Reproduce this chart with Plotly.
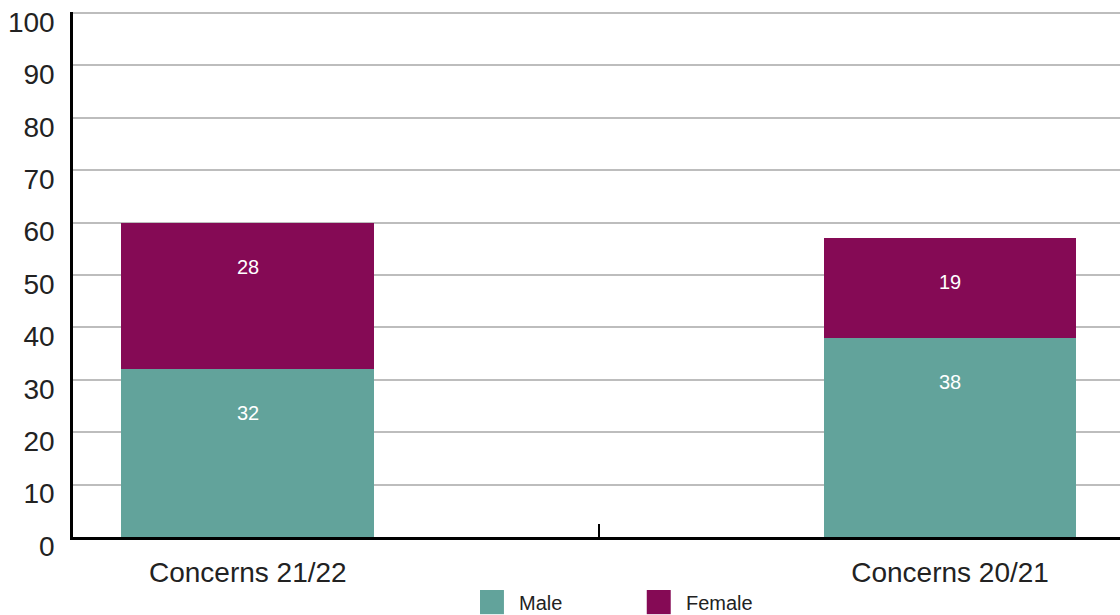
import plotly.graph_objects as go

categories = ["Concerns 21/22", "Concerns 20/21"]
male = [32, 38]
female = [28, 19]
series_names = ["Male", "Female"]
y_ticks = [0, 10, 20, 30, 40, 50, 60, 70, 80, 90, 100]

TEAL = "#62A39B"
PLUM = "#850A55"
FONT = "Liberation Sans, Arial, sans-serif"

fig = go.Figure()
stacks = [(series_names[0], male, TEAL), (series_names[1], female, PLUM)]
base = [0] * len(categories)
for name, vals, col in stacks:
    fig.add_trace(go.Bar(
        x=categories, y=vals, name=name, marker=dict(color=col, line=dict(width=0)),
        width=0.36, showlegend=False, hoverinfo="x+y+name",
    ))
    # value labels sit a fixed distance below the top of each segment
    for i, v in enumerate(vals):
        top = base[i] + v
        fig.add_annotation(x=categories[i], y=top, text=str(v), showarrow=False,
                           yanchor="middle", yshift=-44,
                           font=dict(size=20, color="white", family=FONT))
        base[i] = top

# legend drawn as large square swatches under the plot
legend_items = [(series_names[0], TEAL, 0.3887), (series_names[1], PLUM, 0.548)]
for name, col, x0 in legend_items:
    fig.add_shape(type="rect", xref="paper", yref="paper",
                  x0=x0, x1=x0 + 0.0229, y0=-0.101, y1=-0.147,
                  fillcolor=col, line=dict(width=0))
    fig.add_annotation(xref="paper", yref="paper", x=x0 + 0.0353, y=-0.126,
                       text=name, showarrow=False, xanchor="left", yanchor="middle",
                       font=dict(size=20, color="#222", family=FONT))

fig.update_layout(
    barmode="stack",
    width=1120, height=615,
    margin=dict(l=73, r=0, t=12, b=78, autoexpand=False),
    paper_bgcolor="white", plot_bgcolor="white",
    font=dict(family=FONT, color="#222"),
    xaxis=dict(
        type="category", range=[-0.249, 1.242],
        tickson="boundaries", ticks="inside", ticklen=13, tickwidth=2, tickcolor="black",
        showline=True, linecolor="black", linewidth=2.5,
        showgrid=False, tickfont=dict(size=28, color="#222"), ticklabelstandoff=9,
    ),
    yaxis=dict(
        range=[0, 100.2], tickvals=y_ticks, ticks="",
        showline=True, linecolor="black", linewidth=2.5,
        showgrid=True, gridcolor="#bdbdbd", gridwidth=1.5, zeroline=False,
        tickfont=dict(size=28, color="#222"), ticklabelstandoff=10,
        ticklabelshift=9, ticklabeloverflow="allow",
    ),
)

fig.write_html("out.html")
